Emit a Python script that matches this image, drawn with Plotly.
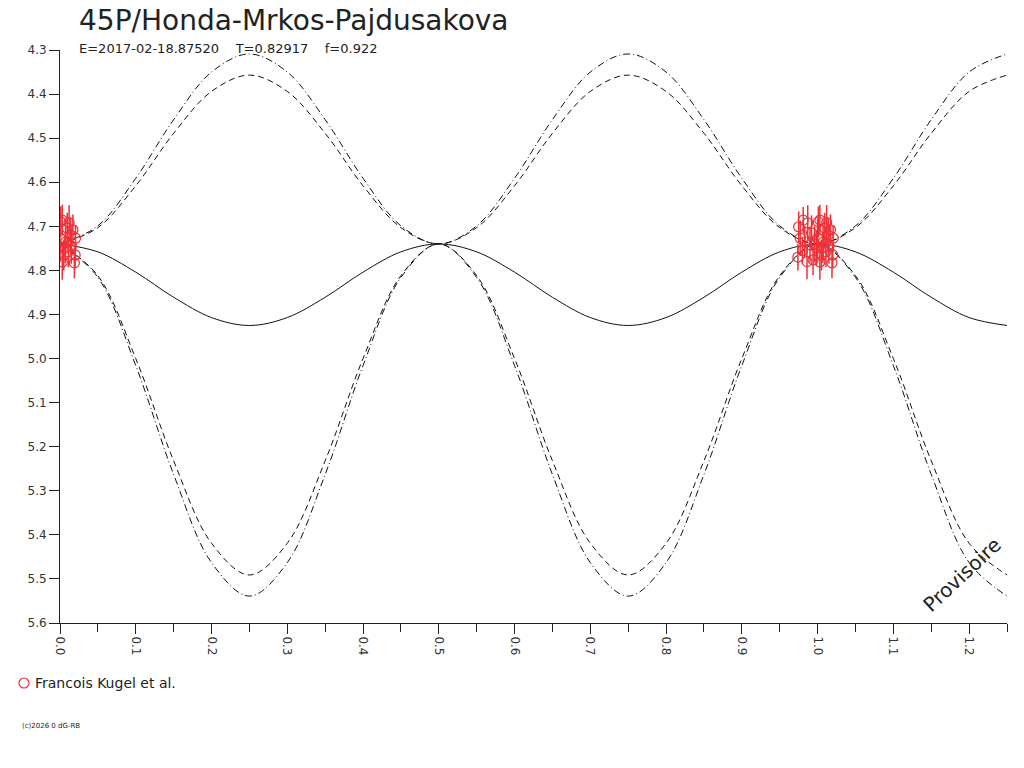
import plotly.graph_objects as go

# phase grid and model light curves
phase = [0.0, 0.05, 0.1, 0.15, 0.2, 0.25, 0.3, 0.35, 0.4, 0.45, 0.5,
         0.55, 0.6, 0.65, 0.7, 0.75, 0.8, 0.85, 0.9, 0.95, 1.0,
         1.05, 1.1, 1.15, 1.2, 1.25]
mean_curve = [4.740, 4.758, 4.804, 4.861, 4.907, 4.925, 4.907, 4.861, 4.804, 4.758, 4.740,
              4.758, 4.804, 4.861, 4.907, 4.925, 4.907, 4.861, 4.804, 4.758, 4.740,
              4.758, 4.804, 4.861, 4.907, 4.925]
upper_dash = [4.740, 4.703, 4.608, 4.489, 4.394, 4.357, 4.394, 4.489, 4.608, 4.703, 4.740,
              4.703, 4.608, 4.489, 4.394, 4.357, 4.394, 4.489, 4.608, 4.703, 4.740,
              4.703, 4.608, 4.489, 4.394, 4.357]
upper_dashdot = [4.740, 4.699, 4.591, 4.458, 4.350, 4.309, 4.350, 4.458, 4.591, 4.699, 4.740,
                 4.699, 4.591, 4.458, 4.350, 4.309, 4.350, 4.458, 4.591, 4.699, 4.740,
                 4.699, 4.591, 4.458, 4.350, 4.309]
lower_dash = [4.740, 4.812, 5.000, 5.232, 5.419, 5.491, 5.419, 5.232, 5.000, 4.812, 4.740,
              4.812, 5.000, 5.232, 5.419, 5.491, 5.419, 5.232, 5.000, 4.812, 4.740,
              4.812, 5.000, 5.232, 5.419, 5.491]
lower_dashdot = [4.740, 4.816, 5.016, 5.263, 5.463, 5.539, 5.463, 5.263, 5.016, 4.816, 4.740,
                 4.816, 5.016, 5.263, 5.463, 5.539, 5.463, 5.263, 5.016, 4.816, 4.740,
                 4.816, 5.016, 5.263, 5.463, 5.539]

# observations (Francois Kugel et al.)
obs_phase = [-0.025, -0.019, -0.013, 0.003, 0.012, 0.017, -0.023, -0.026, -0.014, -0.006,
             0.003, 0.019, 0.020, 0.000, -0.010, 0.007, 0.014, 0.0095, 0.0205, -0.0016,
             0.011, 0.0073, 0.001, -0.004, -0.017, -0.008, 0.005, -0.020, 0.015]
obs_mag = [4.701, 4.686, 4.692, 4.686, 4.692, 4.708, 4.727, 4.770, 4.780, 4.776,
           4.781, 4.783, 4.765, 4.727, 4.742, 4.749, 4.720, 4.704, 4.727, 4.749,
           4.758, 4.736, 4.690, 4.740, 4.735, 4.715, 4.765, 4.755, 4.745]
obs_err = [0.035, 0.030, 0.040, 0.035, 0.040, 0.035, 0.040, 0.030, 0.040, 0.035,
           0.040, 0.035, 0.030, 0.045, 0.040, 0.035, 0.040, 0.035, 0.030, 0.040,
           0.035, 0.040, 0.035, 0.040, 0.035, 0.040, 0.035, 0.030, 0.040]

RED = "#ee3038"
FONT = "DejaVu Sans"
INK = "#222222"

fig = go.Figure()

curves = [(mean_curve, "solid"), (upper_dash, "6px,4px"), (lower_dash, "6px,4px"),
          (upper_dashdot, "7px,3px,1px,3px"), (lower_dashdot, "7px,3px,1px,3px")]
for ys, dash in curves:
    fig.add_trace(go.Scatter(x=phase, y=ys, mode="lines", line_shape="spline",
                             line=dict(color="#111111", width=1, dash=dash),
                             showlegend=False, hoverinfo="skip"))

# folded data shown at phase and phase+1
xs = obs_phase + [p + 1 for p in obs_phase]
ys = obs_mag + obs_mag
es = obs_err + obs_err
fig.add_trace(go.Scatter(x=xs, y=ys, mode="markers", showlegend=False,
                         marker=dict(symbol="circle-open", size=10, color=RED, line=dict(width=1.2)),
                         error_y=dict(type="data", array=es, color=RED, thickness=1.5, width=0)))

# page puts the figure 8px in from the corner
OFF = 8
W, H = 1024, 768
L, T = 60 - OFF, 50 - OFF
R, B = W - (1007 - OFF), H - (623 - OFF)
pw, ph = W - L - R, H - T - B

def px(x):
    return (x - OFF - L) / pw

def py(y):
    return (H - B - (y - OFF)) / ph

fig.add_annotation(text="45P/Honda-Mrkos-Pajdusakova", xref="paper", yref="paper",
                   x=px(77), y=py(2), xanchor="left", yanchor="top", showarrow=False,
                   font=dict(family=FONT, size=28, color=INK))
fig.add_annotation(text="E=2017-02-18.87520&nbsp;&nbsp;&nbsp;&nbsp;T=0.82917&nbsp;&nbsp;&nbsp;&nbsp;f=0.922",
                   xref="paper", yref="paper",
                   x=px(77), y=py(48), xanchor="left", yanchor="middle", showarrow=False,
                   font=dict(family=FONT, size=13, color=INK))
fig.add_annotation(text="Provisoire", x=1.19, y=5.49, xref="x", yref="y",
                   textangle=-43, showarrow=False,
                   font=dict(family=FONT, size=20, color=INK))
fig.add_annotation(text="Francois Kugel et al.", xref="paper", yref="paper",
                   x=px(33), y=py(683), xanchor="left", yanchor="middle", showarrow=False,
                   font=dict(family=FONT, size=14, color=INK))
fig.add_annotation(text="(c)2026 0 dG-RB", xref="paper", yref="paper",
                   x=px(20), y=py(726), xanchor="left", yanchor="middle", showarrow=False,
                   font=dict(family=FONT, size=7, color=INK))
fig.add_shape(type="circle", xref="paper", yref="paper", xsizemode="pixel", ysizemode="pixel",
              xanchor=px(24), yanchor=py(683), x0=-5, x1=5, y0=-5, y1=5,
              line=dict(color=RED, width=1.2))

fig.update_xaxes(range=[0, 1.25], showgrid=False, zeroline=False, showline=True,
                 linecolor=INK, linewidth=1, ticks="outside", ticklen=10,
                 tickcolor=INK, dtick=0.1, tick0=0, tickformat=".1f", tickangle=90,
                 tickfont=dict(family=FONT, size=12, color="#333333"),
                 minor=dict(dtick=0.05, ticks="outside", ticklen=8, tickcolor=INK))
fig.update_yaxes(range=[5.6, 4.3], showgrid=False, zeroline=False, showline=True,
                 linecolor=INK, linewidth=1, ticks="outside", ticklen=10,
                 tickcolor=INK, dtick=0.1, tick0=4.3, tickformat=".1f",
                 tickfont=dict(family=FONT, size=12, color="#333333"))

fig.update_layout(width=W, height=H, margin=dict(l=L, r=R, t=T, b=B),
                  paper_bgcolor="white", plot_bgcolor="white")

fig.write_html("out.html")
